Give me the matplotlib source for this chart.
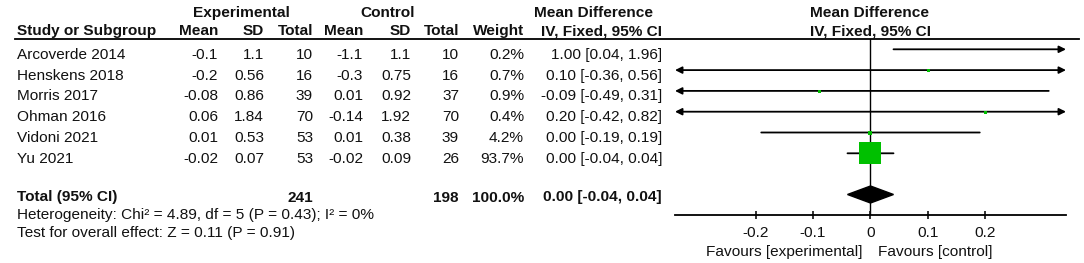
import numpy as np
import matplotlib.pyplot as plt

plt.rcParams['font.family'] = ['Liberation Sans', 'DejaVu Sans']
plt.rcParams['axes.unicode_minus'] = False

# study data
studies = ['Arcoverde 2014', 'Henskens 2018', 'Morris 2017', 'Ohman 2016', 'Vidoni 2021', 'Yu 2021']
exp_mean = [-0.1, -0.2, -0.08, 0.06, 0.01, -0.02]
exp_sd = [1.1, 0.56, 0.86, 1.84, 0.53, 0.07]
exp_n = [10, 16, 39, 70, 53, 53]
ctl_mean = [-1.1, -0.3, 0.01, -0.14, 0.01, -0.02]
ctl_sd = [1.1, 0.75, 0.92, 1.92, 0.38, 0.09]
ctl_n = [10, 16, 37, 70, 39, 26]
weight = [0.2, 0.7, 0.9, 0.4, 4.2, 93.7]
md = [1.00, 0.10, -0.09, 0.20, 0.00, 0.00]
ci_lo = [0.04, -0.36, -0.49, -0.42, -0.19, -0.04]
ci_hi = [1.96, 0.56, 0.31, 0.82, 0.19, 0.04]

total_exp, total_ctl, total_weight = 241, 198, 100.0
total_md, total_lo, total_hi = 0.00, -0.04, 0.04
heterogeneity = 'Heterogeneity: Chi\u00b2 = 4.89, df = 5 (P = 0.43); I\u00b2 = 0%'
overall = 'Test for overall effect: Z = 0.11 (P = 0.91)'

ticks = [-0.2, -0.1, 0, 0.1, 0.2]
tick_labels = ['-0.2', '-0.1', '0', '0.1', '0.2']
xmin, xmax = -0.34, 0.34

W, H = 1084, 263
FS = 11.1
GREEN = '#00c000'

fig = plt.figure(figsize=(W / 100, H / 100), dpi=100)

# table part, laid out in pixel units
tab = fig.add_axes([0, 0, 1, 1])
tab.set_xlim(0, W)
tab.set_ylim(H, 0)
tab.axis('off')


def txt(x, y, s, ha='right', bold=False):
    tab.text(x, y, s, ha=ha, va='baseline', fontsize=FS,
             fontweight='bold' if bold else 'normal', color='#111111')


cols = [218, 264, 313, 363, 411, 459, 524, 662]

# headers
txt(241, 17, 'Experimental', ha='center', bold=True)
txt(388, 17, 'Control', ha='center', bold=True)
txt(594, 17, 'Mean Difference', ha='center', bold=True)
txt(870, 17, 'Mean Difference', ha='center', bold=True)
txt(17, 35, 'Study or Subgroup', ha='left', bold=True)
for x, h in zip(cols, ['Mean', 'SD', 'Total', 'Mean', 'SD', 'Total', 'Weight', 'IV, Fixed, 95% CI']):
    txt(x, 35, h, bold=True)
txt(870, 36, 'IV, Fixed, 95% CI', ha='center', bold=True)
tab.plot([15, 1079], [39, 39], color='black', lw=1.3)

row_y = [49.3 + 20.8 * i for i in range(len(studies))]
total_y = 194.5

for i, y in enumerate(row_y):
    b = y + 9.5
    txt(17, b, studies[i], ha='left')
    vals = ['%g' % exp_mean[i], '%g' % exp_sd[i], str(exp_n[i]),
            '%g' % ctl_mean[i], '%g' % ctl_sd[i], str(ctl_n[i]),
            '%.1f%%' % weight[i],
            '%.2f [%.2f, %.2f]' % (md[i], ci_lo[i], ci_hi[i])]
    for x, v in zip(cols, vals):
        txt(x, b, v)

b = 201.5
txt(17, b, 'Total (95% CI)', ha='left', bold=True)
txt(cols[2], b, str(total_exp), bold=True)
txt(cols[5], b, str(total_ctl), bold=True)
txt(cols[6], b, '%.1f%%' % total_weight, bold=True)
txt(cols[7], b, '%.2f [%.2f, %.2f]' % (total_md, total_lo, total_hi), bold=True)
txt(17, 218.5, heterogeneity, ha='left')
txt(17, 236.5, overall, ha='left')
txt(863, 256, 'Favours [experimental]')
txt(878, 256, 'Favours [control]', ha='left')

# forest plot
ax = fig.add_axes([675 / W, (H - 215) / H, (1066 - 675) / W, (215 - 39) / H])
ax.set_xlim(xmin, xmax)
ax.set_ylim(215, 39)
ax.patch.set_alpha(0)
for s in ['top', 'left', 'right']:
    ax.spines[s].set_visible(False)
ax.spines['bottom'].set_linewidth(1.3)
ax.set_yticks([])
ax.set_xticks(ticks)
ax.set_xticklabels(tick_labels)
ax.tick_params(axis='x', direction='inout', length=5.8, width=1.2,
               labelsize=FS, pad=5, colors='#111111')
ax.axvline(0, color='black', lw=1.0, zorder=1)

for i, y in enumerate(row_y):
    lo = max(ci_lo[i], xmin)
    hi = min(ci_hi[i], xmax)
    left = ci_lo[i] < xmin
    right = ci_hi[i] > xmax
    if left and right:
        style = '<|-|>'
    elif right:
        style = '-|>'
    elif left:
        style = '<|-'
    else:
        style = '-'
    ax.annotate('', xy=(hi, y), xytext=(lo, y),
                arrowprops=dict(arrowstyle=style, color='black', lw=1.3,
                                mutation_scale=10, shrinkA=0, shrinkB=0),
                annotation_clip=False, zorder=2)
    side = max(3.0, 23 * np.sqrt(weight[i] / weight[-1]))
    ax.plot(md[i], y, 's', ms=side * 0.72, color=GREEN, mec=GREEN, mew=0,
            zorder=3)

ax.fill([total_lo, total_md, total_hi, total_md],
        [total_y, total_y - 8.5, total_y, total_y + 8.5], color='black', zorder=3)

fig.savefig('out.png', dpi=100)
